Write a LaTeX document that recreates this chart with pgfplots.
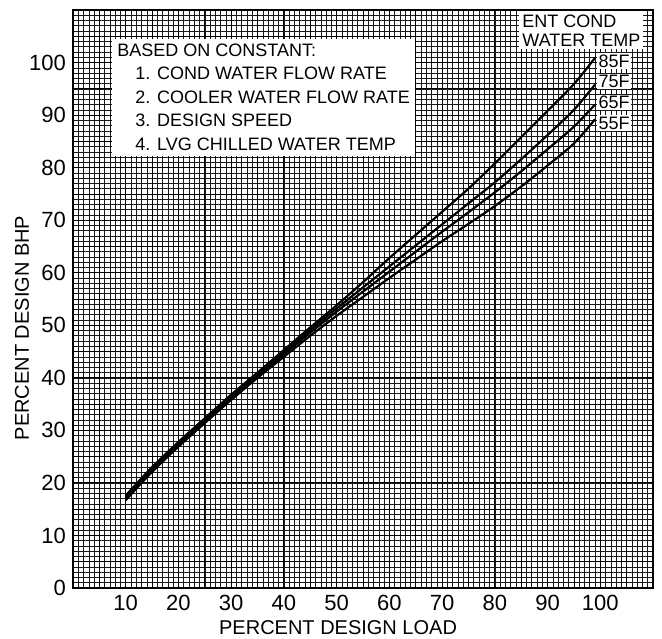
\documentclass[border=0pt]{standalone}
\usepackage{fontspec}
\setmainfont{Liberation Sans}
\usepackage{pgfplots}
\pgfplotsset{compat=1.18}
\begin{document}
\begin{tikzpicture}
\useasboundingbox (-36.5pt,-25pt) rectangle (294.5pt,294pt);
\begin{axis}[
    scale only axis, width=290pt, height=289pt,
    xmin=0, xmax=110, ymin=0, ymax=110,
    xtick={0,10,...,110}, ytick={0,10,...,110},
    xticklabels={,10,20,30,40,50,60,70,80,90,100,},
    yticklabels={0,10,20,30,40,50,60,70,80,90,100,},
    minor xtick={0,1,...,110}, minor ytick={0,1,...,110},
    extra x ticks={5,15,...,105}, extra y ticks={5,15,...,105},
    extra x tick labels={}, extra y tick labels={},
    extra tick style={grid=major, major grid style={black, line width=0.4pt}},
    grid=both,
    major grid style={black, line width=0.5pt},
    minor grid style={black!90, line width=0.3pt},
    tick style={draw=none},
    axis line style={line width=1.1pt},
    /pgf/number format/assume math mode=true,
    ticklabel style={font=\fontsize{11}{11}\selectfont},
    label style={font=\fontsize{9}{9}\selectfont},
    every axis x label/.style={at={(axis description cs:0.457,-0.069)}, anchor=center},
    every axis y label/.style={at={(axis description cs:-0.088,0.45)}, rotate=90, anchor=center},
    xlabel={PERCENT DESIGN LOAD},
    ylabel={PERCENT DESIGN BHP},
]
% 85F
\addplot[black, line width=1.1pt, smooth] coordinates {
(10,17.6)(12,19.8)(15,23)(20,27.8)(25,32.3)(30,36.8)(35,41)(40,45.3)(45,49.6)(50,53.8)(55,58.2)(60,62.8)(65,67.2)(70,71.6)(75,76)(80,80.8)(85,85.8)(90,90.8)(95,95.9)(99,100.9)};
% 75F
\addplot[black, line width=1.1pt, smooth] coordinates {
(10,17.3)(12,19.5)(15,22.7)(20,27.5)(25,32)(30,36.5)(35,40.7)(40,44.9)(45,49.1)(50,53.2)(55,57.2)(60,61.2)(65,65.2)(70,69.2)(75,73.2)(80,77.2)(85,81.6)(90,86.2)(95,91)(99,95.8)};
% 65F
\addplot[black, line width=1.1pt, smooth] coordinates {
(10,17.0)(12,19.2)(15,22.4)(20,27.2)(25,31.7)(30,36.2)(35,40.4)(40,44.5)(45,48.6)(50,52.6)(55,56.4)(60,60.2)(65,64)(70,67.8)(75,71.5)(80,75.3)(85,79.3)(90,83.5)(95,87.8)(99,92)};
% 55F
\addplot[black, line width=1.1pt, smooth] coordinates {
(10,16.7)(12,18.9)(15,22.1)(20,26.9)(25,31.4)(30,35.8)(35,40)(40,44)(45,48)(50,51.8)(55,55.4)(60,59)(65,62.5)(70,66)(75,69.3)(80,72.7)(85,76.4)(90,80.4)(95,84.6)(99,89.2)};

\node[anchor=north west, fill=white, inner sep=2.5pt, align=left,
      font=\fontsize{9}{11.75}\selectfont] at (axis cs:7.4,104.6)
  {BASED ON CONSTANT:\\
   \hspace*{9pt}1. COND WATER FLOW RATE\\
   \hspace*{9pt}2. COOLER WATER FLOW RATE\\
   \hspace*{9pt}3. DESIGN SPEED\\
   \hspace*{9pt}4. LVG CHILLED WATER TEMP};
\node[anchor=north west, fill=white, inner sep=1.5pt, align=left,
      font=\fontsize{9}{9.5}\selectfont] at (axis cs:84.6,109.8)
  {ENT COND\\WATER TEMP};
\foreach \lab/\yy in {85F/100.3, 75F/96.4, 65F/92.4, 55F/88.5}{
  \edef\tmp{\noexpand\node[anchor=west, fill=white, inner sep=0.8pt,
      font=\noexpand\fontsize{9}{9}\noexpand\selectfont] at (axis cs:99.3,\yy) {\lab};}
  \tmp
}
\end{axis}
\end{tikzpicture}
\end{document}
